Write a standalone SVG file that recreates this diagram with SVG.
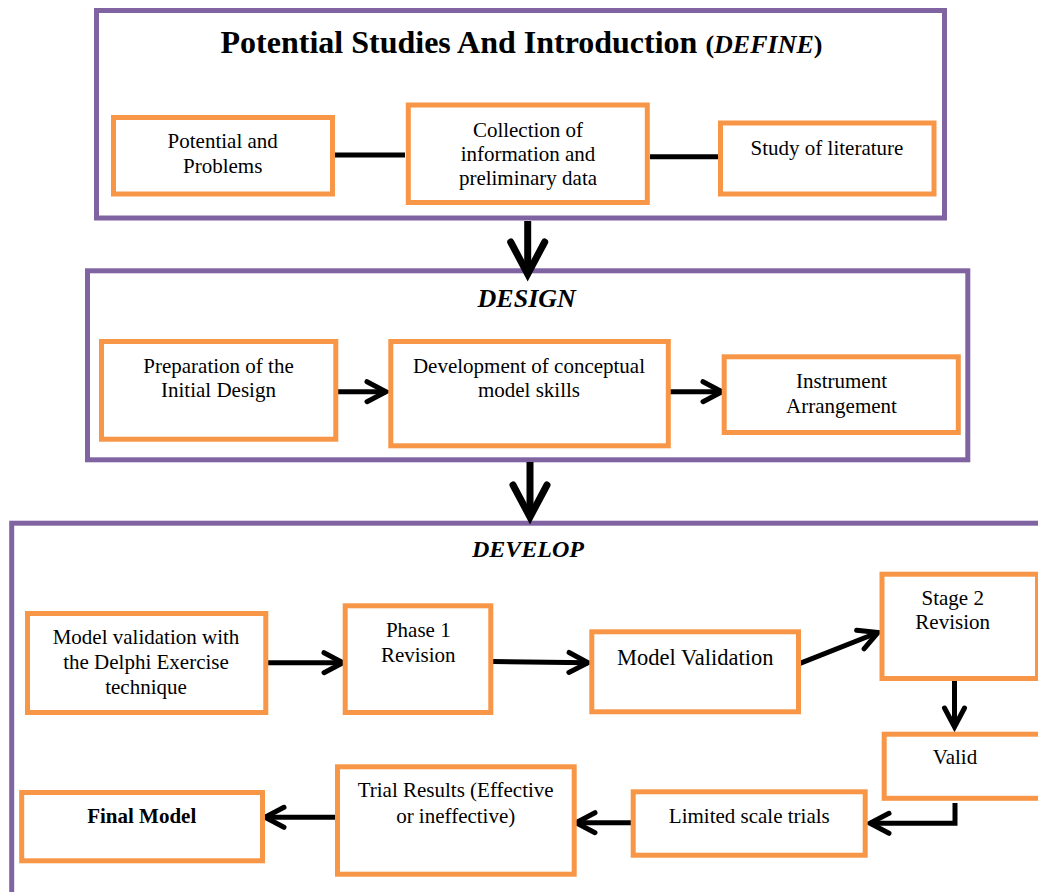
<svg xmlns="http://www.w3.org/2000/svg" width="1038" height="892" viewBox="0 0 1038 892">
<style>
.stage{fill:none;stroke:#8064A2;stroke-width:5}
.box{fill:#fff;stroke:#F79646;stroke-width:5}
text{font-family:"Liberation Serif",serif;fill:#000;text-anchor:middle}
.t{font-size:21px}
.title{font-size:32px;font-weight:bold}
.sub{font-size:26px}
.h{font-weight:bold;font-style:italic}
.h26{font-size:26px}
.h24{font-size:24px}
.big22{font-size:22.5px}
.b{font-weight:bold}
.link{fill:none;stroke:#000;stroke-width:5}
.big{fill:none;stroke:#000;stroke-width:7}
</style>
<defs>
<marker id="arr" markerUnits="userSpaceOnUse" markerWidth="40" markerHeight="40" viewBox="-30 -20 40 40" refX="0" refY="0" orient="auto" overflow="visible">
<path d="M-19,-10 L0,0 L-19,10" fill="none" stroke="#000" stroke-width="5" stroke-linecap="round" stroke-linejoin="miter"/>
</marker>
<marker id="bigarr" markerUnits="userSpaceOnUse" markerWidth="60" markerHeight="60" viewBox="-45 -30 60 60" refX="0" refY="0" orient="auto" overflow="visible">
<path d="M-32,-17 L0,0 L-32,17" fill="none" stroke="#000" stroke-width="7" stroke-linecap="round" stroke-linejoin="miter"/>
</marker>
</defs>
<rect width="1038" height="892" fill="#fff"/>

<g id="define">
<rect class="stage" x="96.5" y="10.5" width="848" height="207.5"/>
<text class="title" font-family="Liberation Serif" x="521.5" y="53">Potential Studies And Introduction <tspan class="sub">(<tspan font-style="italic">DEFINE</tspan>)</tspan></text>
</g>
<g id="design">
<rect class="stage" x="87.5" y="270.8" width="880.3" height="189"/>
<text class="h h26" font-family="Liberation Serif" x="526.7" y="307.3">DESIGN</text>
</g>
<g id="develop">
<rect class="stage" x="11.7" y="523.2" width="1040" height="400"/>
<text class="h h24" font-family="Liberation Serif" x="528" y="557.3">DEVELOP</text>
</g>

<g id="connectors">
<line class="link" x1="330.7" y1="155" x2="405" y2="155"/>
<line class="link" x1="650" y1="156.7" x2="720.7" y2="156.7"/>
<line class="big" x1="527.7" y1="221" x2="527.7" y2="274" marker-end="url(#bigarr)"/>
<line class="big" x1="530" y1="462" x2="530" y2="517" marker-end="url(#bigarr)"/>
<line class="link" x1="337" y1="391.7" x2="386" y2="391.7" marker-end="url(#arr)"/>
<line class="link" x1="670" y1="391.7" x2="722" y2="391.7" marker-end="url(#arr)"/>
<line class="link" x1="268" y1="662.7" x2="343" y2="662.7" marker-end="url(#arr)"/>
<line class="link" x1="493" y1="661.5" x2="588" y2="662.7" marker-end="url(#arr)"/>
<line class="link" x1="800" y1="663.3" x2="878" y2="632.5" marker-end="url(#arr)"/>
<line class="link" x1="954.5" y1="681" x2="954.5" y2="727" marker-end="url(#arr)"/>
<path class="link" d="M955,803 L955,823.3 L870,823.3" marker-end="url(#arr)"/>
<line class="link" x1="633" y1="822.7" x2="576" y2="822.7" marker-end="url(#arr)"/>
<line class="link" x1="337" y1="817.3" x2="265" y2="817.3" marker-end="url(#arr)"/>
</g>

<g id="n-potential" font-family="Liberation Serif">
<rect class="box" x="113.5" y="117.5" width="219" height="76.5"/>
<text class="t" x="222.7" y="148.3">Potential and</text>
<text class="t" x="222.7" y="173.3">Problems</text>
</g>
<g id="n-collection" font-family="Liberation Serif">
<rect class="box" x="408.3" y="105" width="239" height="97.5"/>
<text class="t" x="528" y="136.7">Collection of</text>
<text class="t" x="528" y="161">information and</text>
<text class="t" x="528" y="185">preliminary data</text>
</g>
<g id="n-literature" font-family="Liberation Serif">
<rect class="box" x="720.5" y="123" width="213.5" height="71"/>
<text class="t" x="827" y="155">Study of literature</text>
</g>
<g id="n-preparation" font-family="Liberation Serif">
<rect class="box" x="101.5" y="341.5" width="234.3" height="97.7"/>
<text class="t" x="218.5" y="372.7">Preparation of the</text>
<text class="t" x="218.5" y="397.3">Initial Design</text>
</g>
<g id="n-development" font-family="Liberation Serif">
<rect class="box" x="390.8" y="341.5" width="277.5" height="104.3"/>
<text class="t" x="529" y="372.7">Development of conceptual</text>
<text class="t" x="529" y="397.3">model skills</text>
</g>
<g id="n-instrument" font-family="Liberation Serif">
<rect class="box" x="724.2" y="356.8" width="234.1" height="75.7"/>
<text class="t" x="841.5" y="388.3">Instrument</text>
<text class="t" x="841.5" y="412.7">Arrangement</text>
</g>
<g id="n-delphi" font-family="Liberation Serif">
<rect class="box" x="27.5" y="613.5" width="238.3" height="99"/>
<text class="t" x="146" y="644">Model validation with</text>
<text class="t" x="146" y="669">the Delphi Exercise</text>
<text class="t" x="146" y="693.5">technique</text>
</g>
<g id="n-phase1" font-family="Liberation Serif">
<rect class="box" x="345.2" y="605.8" width="145.6" height="106.7"/>
<text class="t" x="418.3" y="636.7">Phase 1</text>
<text class="t" x="418.3" y="661.7">Revision</text>
</g>
<g id="n-validation" font-family="Liberation Serif">
<rect class="box" x="591.8" y="631.8" width="206.7" height="80"/>
<text class="big22" x="695.3" y="665">Model Validation</text>
</g>
<g id="n-stage2" font-family="Liberation Serif">
<rect class="box" x="882" y="574.2" width="155.5" height="104.3"/>
<text class="t" x="952.7" y="605">Stage 2</text>
<text class="t" x="952.7" y="629.3">Revision</text>
</g>
<g id="n-valid" font-family="Liberation Serif">
<rect class="box" x="884.2" y="734.2" width="170" height="64.1"/>
<text class="t" x="955" y="764.3">Valid</text>
</g>
<g id="n-limited" font-family="Liberation Serif">
<rect class="box" x="633.2" y="791.8" width="232" height="63.4"/>
<text class="t" x="749.3" y="822.7">Limited scale trials</text>
</g>
<g id="n-trial" font-family="Liberation Serif">
<rect class="box" x="337.5" y="766.8" width="236.7" height="107.4"/>
<text class="t" x="455.7" y="797.3">Trial Results (Effective</text>
<text class="t" x="455.7" y="822.7">or ineffective)</text>
</g>
<g id="n-final" font-family="Liberation Serif">
<rect class="box" x="21.7" y="792.5" width="240.8" height="68.3"/>
<text class="t b" x="141.7" y="823.3">Final Model</text>
</g>
</svg>
